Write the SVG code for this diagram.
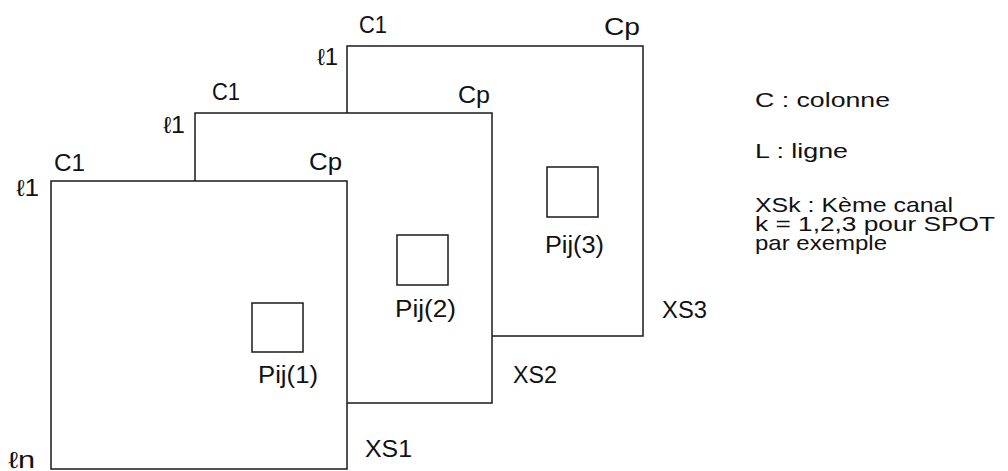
<svg xmlns="http://www.w3.org/2000/svg" width="1008" height="471" viewBox="0 0 1008 471">
<style>
.frame{fill:#fff;stroke:#1a1a1a;stroke-width:1.5}
.pix{fill:none;stroke:#1a1a1a;stroke-width:1.5}
text{font-family:"Liberation Sans",Arial,sans-serif;fill:#111}
.lbl{font-size:23px}
.leg{font-size:21px}
</style>
<rect width="1008" height="471" fill="#fff"/>
<g id="canal-xs3">
<rect class="frame" x="347" y="46" width="296" height="290"/>
<rect class="pix" x="547" y="167" width="51" height="50"/>
<text class="lbl" x="359" y="33" textLength="28" lengthAdjust="spacingAndGlyphs">C1</text>
<text class="lbl" x="604" y="35" textLength="36" lengthAdjust="spacingAndGlyphs">Cp</text>
<text class="lbl" x="317" y="65" textLength="21" lengthAdjust="spacingAndGlyphs">ℓ1</text>
<text class="lbl" x="545" y="253" textLength="59" lengthAdjust="spacingAndGlyphs">Pij(3)</text>
<text class="lbl" x="662" y="318" textLength="45" lengthAdjust="spacingAndGlyphs">XS3</text>
</g>
<g id="canal-xs2">
<rect class="frame" x="195" y="113" width="297" height="290"/>
<rect class="pix" x="397" y="235" width="51" height="50"/>
<text class="lbl" x="212" y="100" textLength="28" lengthAdjust="spacingAndGlyphs">C1</text>
<text class="lbl" x="458" y="103" textLength="32" lengthAdjust="spacingAndGlyphs">Cp</text>
<text class="lbl" x="163" y="133" textLength="22" lengthAdjust="spacingAndGlyphs">ℓ1</text>
<text class="lbl" x="395" y="317" textLength="61" lengthAdjust="spacingAndGlyphs">Pij(2)</text>
<text class="lbl" x="513" y="383" textLength="44" lengthAdjust="spacingAndGlyphs">XS2</text>
</g>
<g id="canal-xs1">
<rect class="frame" x="51" y="181" width="296" height="288"/>
<rect class="pix" x="252" y="303" width="51" height="49"/>
<text class="lbl" x="54" y="171" textLength="31" lengthAdjust="spacingAndGlyphs">C1</text>
<text class="lbl" x="309" y="170" textLength="33" lengthAdjust="spacingAndGlyphs">Cp</text>
<text class="lbl" x="16" y="196" textLength="23" lengthAdjust="spacingAndGlyphs">ℓ1</text>
<text class="lbl" x="8" y="468" textLength="27" lengthAdjust="spacingAndGlyphs">ℓn</text>
<text class="lbl" x="258" y="383" textLength="60" lengthAdjust="spacingAndGlyphs">Pij(1)</text>
<text class="lbl" x="365" y="457" textLength="47" lengthAdjust="spacingAndGlyphs">XS1</text>
</g>
<g id="connectors"></g>
<g id="legend">
<text class="leg" x="755" y="107" textLength="135" lengthAdjust="spacingAndGlyphs">C : colonne</text>
<text class="leg" x="755" y="158" textLength="93" lengthAdjust="spacingAndGlyphs">L : ligne</text>
<text class="leg" x="755" y="212" textLength="198" lengthAdjust="spacingAndGlyphs">XSk : Kème canal</text>
<text class="leg" x="755" y="231" textLength="240" lengthAdjust="spacingAndGlyphs">k = 1,2,3 pour SPOT</text>
<text class="leg" x="755" y="250" textLength="132" lengthAdjust="spacingAndGlyphs">par exemple</text>
</g>
</svg>
